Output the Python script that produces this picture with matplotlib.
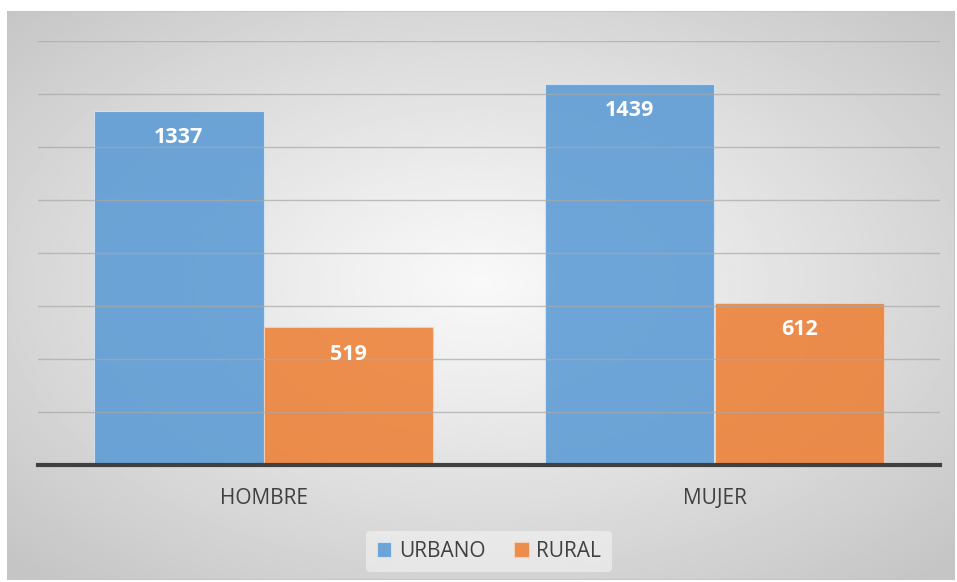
import numpy as np
import matplotlib
matplotlib.use("Agg")
import matplotlib.pyplot as plt
from matplotlib.patches import Rectangle

categories = ["HOMBRE", "MUJER"]
series_names = ["URBANO", "RURAL"]
urbano = [1337, 1439]
rural = [519, 612]

BLUE = "#5b9bd5"
ORANGE = "#ed7d31"

plt.rcParams['font.family'] = ['Open Sans', 'DejaVu Sans']

fig = plt.figure(figsize=(9.57, 5.82), dpi=100)
fig.patch.set_facecolor("white")

# gradient background frame
bg = fig.add_axes([7 / 957, 2 / 582, 948 / 957, 569 / 582])
bg.set_axis_off()
yy, xx = np.mgrid[-1:1:300j, -1:1:500j]
r = np.sqrt((xx * 1.0) ** 2 + ((yy + 0.05) * 1.0) ** 2) / np.sqrt(2)
shade = 0.975 - 0.205 * np.clip(r, 0, 1) ** 1.1
bg.imshow(shade, cmap="gray", vmin=0, vmax=1, aspect="auto", extent=[0, 1, 0, 1])
bg.add_patch(Rectangle((0, 0), 1, 1, transform=bg.transAxes, fill=False,
                       edgecolor="#c4c4c4", linewidth=1.2))
bg.set_xlim(0, 1)
bg.set_ylim(0, 1)

ax = fig.add_axes([38 / 957, 117 / 582, 902 / 957, 424 / 582])
ax.patch.set_alpha(0)

x = np.arange(len(categories))
w = 0.376
b1 = ax.bar(x - w / 2, urbano, w, color=BLUE, alpha=0.88, edgecolor="#d8e6f3",
            linewidth=0.8, label=series_names[0], zorder=2)
b2 = ax.bar(x + w / 2, rural, w, color=ORANGE, alpha=0.85, edgecolor="#f6d3bd",
            linewidth=0.8, label=series_names[1], zorder=2)

for bars in (b1, b2):
    for rect in bars:
        h = rect.get_height()
        ax.annotate(str(int(h)), (rect.get_x() + rect.get_width() / 2, h),
                    xytext=(0, -19.5), textcoords="offset points", ha="center",
                    va="center", color="white", fontsize=15.5, fontweight="bold",
                    zorder=4)

ax.set_xlim(-0.5, 1.5)
ax.set_ylim(0, 1600)
ax.set_yticks(np.arange(200, 1601, 200))
ax.yaxis.grid(True, color="#a8a8a8", linewidth=1.0, alpha=0.7, zorder=3)
ax.set_axisbelow(False)
ax.tick_params(axis="y", left=False, labelleft=False)
ax.tick_params(axis="x", bottom=False, labelsize=15, labelcolor="#404040", pad=13)
ax.set_xticks(x)
ax.set_xticklabels(categories)
for s in ["top", "right", "left"]:
    ax.spines[s].set_visible(False)
ax.spines["bottom"].set_color("#404040")
ax.spines["bottom"].set_linewidth(3)
ax.spines["bottom"].set_zorder(5)

leg = ax.legend(loc="upper center", bbox_to_anchor=(0.5, -0.13), ncol=2,
                frameon=True, fontsize=15, handlelength=0.7, handleheight=0.7,
                handletextpad=0.35, columnspacing=1.4, borderpad=0.5)
leg.get_frame().set_facecolor("#f4f4f4")
leg.get_frame().set_edgecolor("none")
leg.get_frame().set_alpha(0.6)
for t in leg.get_texts():
    t.set_color("#404040")

fig.savefig("out.png", dpi=100)
